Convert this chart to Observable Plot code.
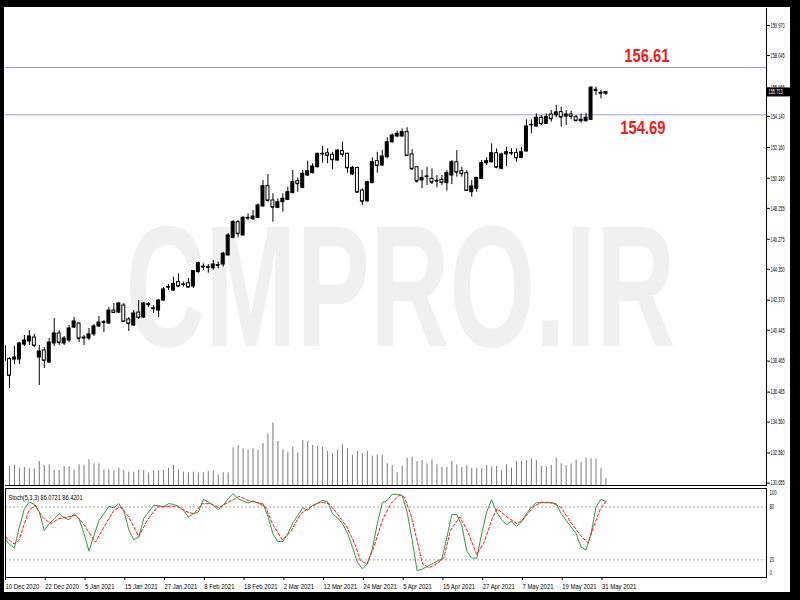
<!DOCTYPE html>
<html><head><meta charset="utf-8">
<script src="https://cdn.jsdelivr.net/npm/d3@7"></script>
<script src="https://cdn.jsdelivr.net/npm/@observablehq/plot@0.6"></script>
<style>
html,body{margin:0;padding:0;background:#000;}
#wrap{position:relative;width:800px;height:600px;background:#000;overflow:hidden;}
#paper{position:absolute;left:4px;top:7px;width:786px;height:585px;background:#fff;}
#wrap svg{position:absolute;left:0;top:0;}
</style></head>
<body><div id="wrap"><div id="paper"></div></div>
<script>
// ---- data (daily candles, 10 Dec 2020 .. 1 Jun 2021) ----
const open = [139.41,138.60,138.57,138.57,139.53,139.73,139.98,138.70,139.15,138.38,
139.60,140.24,139.60,139.79,140.62,140.88,139.92,139.92,140.18,140.69,
140.94,140.88,141.71,141.58,142.03,141.14,140.75,141.58,141.26,142.12,
141.86,141.71,142.35,143.19,142.99,143.53,143.36,143.46,143.25,144.17,
144.52,144.49,144.42,144.62,144.66,145.24,146.37,147.37,146.52,147.65,
147.56,147.65,148.38,149.68,148.76,148.29,148.65,148.80,149.23,150.00,
149.57,150.36,150.51,150.89,151.75,151.79,151.69,151.32,151.92,151.75,
150.43,150.85,149.40,148.71,149.87,151.28,151.00,151.53,152.49,152.86,
152.86,153.14,151.71,150.89,150.04,150.28,150.15,150.02,150.09,149.87,
150.36,151.21,150.64,150.51,149.29,149.51,150.15,151.15,151.21,151.79,
150.79,151.71,151.80,151.79,151.49,151.90,153.58,153.50,154.06,153.67,
154.27,154.22,154.42,154.14,154.27,154.10,153.84,153.84,153.93,155.85,
155.66,155.60];
const high = [139.50,138.70,139.41,139.66,140.11,140.43,140.18,139.47,139.34,139.92,
141.20,140.43,140.05,140.75,141.26,140.94,140.11,140.56,140.82,141.33,
141.07,141.91,142.16,142.23,142.16,141.26,141.71,142.35,142.23,142.23,
142.03,142.42,143.19,143.38,143.85,144.06,143.53,143.76,144.28,144.81,
144.70,144.66,144.92,144.81,145.45,146.65,147.48,147.48,147.73,147.91,
148.12,148.55,150.04,150.43,149.19,148.87,149.19,149.61,150.68,150.21,
150.68,151.28,151.12,151.79,152.22,152.07,151.85,152.01,152.49,151.79,
150.94,150.89,149.51,150.00,151.49,151.85,151.96,152.78,153.03,153.20,
153.35,153.42,152.01,150.94,150.68,150.89,150.79,150.36,150.36,150.68,
151.32,151.96,150.89,150.68,150.04,150.25,151.32,151.49,152.39,152.07,
151.79,152.17,152.07,152.07,152.17,153.93,153.93,154.31,154.20,154.31,
154.52,154.85,154.74,154.52,154.48,154.20,154.31,154.35,156.06,156.02,
155.81,155.76];
const low = [138.44,136.72,138.25,138.25,139.41,139.47,139.34,136.91,138.00,138.32,
139.41,139.47,139.47,139.66,140.56,139.66,139.47,139.79,140.05,140.62,
140.30,140.82,141.52,141.52,140.94,140.37,140.69,141.14,141.20,141.91,
141.52,141.26,142.29,142.99,142.95,143.21,143.21,143.12,143.12,144.10,
144.28,144.10,144.28,144.38,144.49,145.20,146.31,146.37,146.47,147.48,
147.48,147.59,148.33,148.65,147.37,148.23,148.01,148.76,149.19,149.29,
149.51,150.30,150.47,150.85,151.15,151.11,150.73,151.28,151.53,150.51,
150.36,149.23,148.44,148.65,149.83,150.51,150.94,151.43,152.43,152.78,
152.81,151.58,150.68,149.87,149.51,149.72,149.78,149.57,149.72,149.36,
149.78,150.25,150.25,149.36,148.97,149.29,150.09,151.00,151.15,150.79,
150.73,150.94,151.64,151.21,151.43,151.85,153.03,153.46,153.56,153.63,
153.78,154.06,153.46,153.56,153.93,153.78,153.71,153.78,153.88,155.49,
155.27,155.49];
const close = [138.51,137.55,138.70,139.60,139.79,140.05,139.47,139.09,138.51,139.66,
140.24,139.66,139.92,140.56,141.01,139.92,139.98,140.18,140.69,140.94,
140.96,141.71,141.58,142.16,141.01,140.88,141.52,141.26,142.16,142.08,
141.82,142.35,143.06,143.21,143.42,143.27,143.38,143.21,144.23,144.74,
144.49,144.47,144.66,144.60,145.35,146.52,147.37,146.63,147.65,147.63,
147.73,148.44,149.68,148.76,148.33,148.65,148.87,149.29,149.93,149.83,
150.47,150.64,150.94,151.75,151.73,151.64,151.37,151.96,151.71,150.85,
150.85,149.29,148.71,149.93,151.21,151.00,151.58,152.49,152.92,153.03,
153.14,151.64,150.79,150.00,150.21,150.30,149.93,150.00,149.91,150.51,
151.21,150.57,150.47,149.40,149.66,150.19,151.15,151.28,151.79,150.89,
151.71,151.85,151.79,151.49,151.85,153.50,153.61,154.06,153.67,154.10,
153.99,154.40,154.10,154.27,154.14,153.88,153.93,154.06,155.98,155.81,
155.63,155.71];
// tick volume (hundreds)
const volume = [55,57,60,52,54,50,50,72,60,62,
45,45,57,57,47,62,60,77,65,65,
47,47,44,52,44,40,40,47,45,38,
44,44,45,52,60,47,40,38,40,38,
38,42,44,32,38,38,113,120,110,107,
110,105,126,154,188,132,108,99,115,98,
135,132,120,118,115,102,95,105,122,110,
90,102,95,102,88,92,90,65,60,38,
58,82,85,72,75,65,77,62,54,54,
72,62,54,60,52,52,50,60,55,57,
44,62,52,72,72,75,80,75,57,57,
60,82,65,60,65,77,70,82,80,80,
52,22];
// Stochastic (5,3,3): %K per bar, %D as read vertices
const stochK = [45.1,37.5,33.7,57.2,78.1,85.7,83.0,74.3,53.4,61.0,
66.7,72.4,67.8,65.6,72.4,66.7,49.6,29.9,47.7,64.8,
72.4,80.8,78.9,83.8,76.2,54.2,42.8,45.8,66.7,74.3,
81.9,81.5,80.0,83.8,83.0,80.8,76.2,68.6,72.4,74.3,
88.7,85.7,81.9,77.0,81.9,89.5,95.2,89.5,86.8,84.5,
86.8,84.5,83.8,69.4,49.6,40.9,40.9,49.6,61.8,70.5,
79.2,76.2,81.9,84.5,87.6,85.7,72.4,67.8,61.0,50.4,
34.4,17.3,9.7,15.4,32.5,61.0,84.5,87.6,94.4,94.4,
93.3,74.3,42.8,7.9,9.4,12.4,15.4,18.5,21.1,45.8,
71.6,71.3,59.1,29.9,21.9,21.9,49.6,74.3,88.3,74.3,
65.6,59.9,64.0,58.0,62.9,72.4,80.0,84.9,84.9,84.9,
84.9,83.8,72.4,64.8,57.2,49.6,34.4,31.4,49.6,80.0,
88.7,86.1];
const stochDBar = [0.2,1.9,2.9,4.9,6.2,7.6,9.3,10.9,12.6,14.3,15.6,18.3,20,22,23.3,25,27,28.7,30.7,32.7,
34.7,36.8,38.1,39.8,41.4,43.1,45.1,47.2,49.2,51.2,52.5,53.9,55.9,57.5,59.6,61.6,63.6,65.3,66.9,68.9,
70.6,71.6,72.9,74.3,76,77.7,79.4,80.4,81.7,83,84.1,85.4,87.1,88.4,89.7,91.6,93.1,95,96.5,98.1,
99.1,101.1,103.1,104.5,106.5,108.2,110.2,111.9,113.9,115.9,117.4,118.5,119.9,121];
const stochDVal = [45.8,38.2,42.0,76.2,81.9,68.6,61.0,66.7,68.6,70.5,62.9,40.1,57.2,76.2,80.0,68.6,46.6,64.8,80.0,80.8,
80.8,74.3,72.4,83.8,83.8,79.2,85.7,92.1,86.8,84.5,80.0,61.0,42.8,51.5,72.4,80.0,85.7,83.8,72.4,57.2,
36.3,19.2,15.4,34.4,64.8,83.8,93.3,91.4,72.4,42.0,15.4,10.9,16.2,22.3,53.4,68.6,53.4,26.1,40.1,66.7,
78.1,68.6,61.0,66.7,80.8,85.7,84.5,80.0,62.9,47.7,39.0,57.2,78.1,86.4];
const dateLabels = ["10 Dec 2020","22 Dec 2020","5 Jan 2021","15 Jan 2021","27 Jan 2021","8 Feb 2021",
"18 Feb 2021","2 Mar 2021","12 Mar 2021","24 Mar 2021","5 Apr 2021","15 Apr 2021","27 Apr 2021",
"7 May 2021","19 May 2021","31 May 2021"];
const dateTicks = dateLabels.map((d, k) => k * 8);
const priceTicks = [130.655,132.580,134.560,136.485,138.465,140.445,142.370,144.350,146.275,
148.255,150.180,152.160,154.140,155.965,158.045,159.970];
const levelPrices = [157.28, 154.25];     // drawn horizontal levels (as placed on chart)
const levelLabels = ["156.61", "154.69"];
const lastPrice = 155.713;
const stochTitle = "Stoch(5,3,3) 86.0721 86.4201";
const stochLevels = [80, 20];
const watermark = "CMPRO.IR";

// ---- layout ----
const FONT = "'Liberation Sans','DejaVu Sans',sans-serif";
const XD = [0.2, 153.3];
const common = {width: 800, height: 600, marginLeft: 5, marginRight: 34};
const candles = open.map((o, i) => ({i, open: o, high: high[i], low: low[i], close: close[i]}));
const wrap = document.getElementById("wrap");

const price = Plot.plot({
  ...common, marginTop: 8, marginBottom: 115,
  x: {domain: XD, axis: null},
  y: {domain: [130.502, 161.059]},
  style: {background: "transparent", fontFamily: FONT, fontSize: "7px", color: "#000", overflow: "visible"},
  marks: [
    Plot.text([watermark], {frameAnchor: "middle", dx: 14.5, dy: 44, fontSize: 172, fill: "#f0f0f0",
      fontWeight: "bold", fontFamily: "'Liberation Sans',sans-serif", className: "wm"}),
    Plot.ruleY(levelPrices, {stroke: "#9898dc", strokeWidth: 1}),
    Plot.text([levelLabels[0]], {y: () => levelPrices[0], frameAnchor: "right", textAnchor: "end", dx: -97, dy: -12,
      fontSize: 19, fontWeight: "bold", fill: "#ee1c1c", className: "lvl"}),
    Plot.text([levelLabels[1]], {y: () => levelPrices[1], frameAnchor: "right", textAnchor: "end", dx: -101, dy: 13,
      fontSize: 19, fontWeight: "bold", fill: "#ee1c1c", className: "lvl"}),
    Plot.ruleX(candles, {x: "i", y1: "low", y2: "high", stroke: "#000", clip: true}),
    Plot.rect(candles, {x1: d => d.i - 0.3, x2: d => d.i + 0.3, y1: "open", y2: "close",
      fill: d => d.close >= d.open ? "#000" : "#fff", stroke: "#000", clip: true}),
    Plot.ruleY(candles, {y: "close", x1: d => d.i - 0.3, x2: d => d.i + 0.3, stroke: "#000", clip: true}),
    Plot.frame({anchor: "right", stroke: "#000"}),
    Plot.frame({anchor: "bottom", stroke: "#000"}),
    Plot.axisY(priceTicks, {anchor: "right", tickSize: 3, tickPadding: 1, tickFormat: d => d.toFixed(3),
      fontSize: 7, fill: "#000", className: "pax"}),
    Plot.ruleY([lastPrice], {x1: XD[1], x2: XD[1] + 4.85, stroke: "#000", strokeWidth: 9}),
    Plot.text([lastPrice], {y: d => d, text: d => d.toFixed(3), frameAnchor: "right", textAnchor: "start", dx: 2,
      fill: "#fff", fontSize: 7, className: "cur"})
  ]
});

const vol = Plot.plot({
  ...common, marginTop: 422, marginBottom: 115,
  x: {domain: XD, axis: null},
  y: {domain: [0, 189], axis: null},
  style: {background: "transparent"},
  marks: [
    Plot.ruleX(volume.map((v, i) => ({i, v})), {x: "i", y1: 0, y2: "v", stroke: "#7a7a7a", clip: true})
  ]
});

const stoch = Plot.plot({
  ...common, marginTop: 488, marginBottom: 23,
  x: {domain: XD},
  y: {domain: [0, 101], axis: null},
  style: {background: "transparent", fontFamily: FONT, fontSize: "7px", color: "#000", overflow: "visible"},
  marks: [
    Plot.ruleY(stochLevels, {stroke: "#a8a8a8", strokeDasharray: "2,2"}),
    Plot.line(stochK.map((v, i) => ({i, v})), {x: "i", y: "v", stroke: "#2e9a3c", strokeWidth: 1, clip: true}),
    Plot.line(stochDBar.map((b, k) => ({b, v: stochDVal[k]})), {x: "b", y: "v", stroke: "#ff1a1a",
      strokeDasharray: "3,2", strokeWidth: 1, clip: true}),
    Plot.frame({stroke: "#000"}),
    Plot.text([stochTitle], {frameAnchor: "top-left", dx: 3, dy: 6.5, textAnchor: "start", fill: "#000",
      fontSize: 7, className: "stt"}),
    Plot.text([100], {y: d => d, text: d => String(d), frameAnchor: "right", textAnchor: "start", dx: 3, dy: 3.5,
      fontSize: 7, fill: "#000", className: "sax"}),
    Plot.text(stochLevels, {y: d => d, text: d => String(d), frameAnchor: "right", textAnchor: "start", dx: 3,
      fontSize: 7, fill: "#000", className: "sax"}),
    Plot.text([0], {y: d => d, text: d => String(d), frameAnchor: "right", textAnchor: "start", dx: 3, dy: -5,
      fontSize: 7, fill: "#000", className: "sax"}),
    Plot.axisX({ticks: dateTicks, tickFormat: d => dateLabels[dateTicks.indexOf(d)], anchor: "bottom",
      tickSize: 3, tickPadding: 3.5, textAnchor: "start", dx: 1, fontSize: 7, fill: "#000", label: null, className: "dax"})
  ]
});

wrap.appendChild(price);
wrap.appendChild(vol);
wrap.appendChild(stoch);

// condense texts to the narrow terminal font widths of the reference
function squeeze(nodes, f) {
  nodes.forEach(t => {
    const L = t.getComputedTextLength();
    if (L > 0) {
      t.setAttribute("textLength", (L * f).toFixed(2));
      t.setAttribute("lengthAdjust", "spacingAndGlyphs");
    }
  });
}
const wm = price.querySelector(".wm text");
if (wm) { wm.setAttribute("textLength", "550"); wm.setAttribute("lengthAdjust", "spacingAndGlyphs"); }
squeeze(price.querySelectorAll(".lvl text"), 0.78);
squeeze(price.querySelectorAll(".pax text"), 0.56);
squeeze(price.querySelectorAll(".cur text"), 0.56);
squeeze(stoch.querySelectorAll(".sax text"), 0.6);
squeeze(stoch.querySelectorAll(".stt text"), 0.8);
squeeze(stoch.querySelectorAll(".dax text"), 0.85);
</script>
</body></html>
